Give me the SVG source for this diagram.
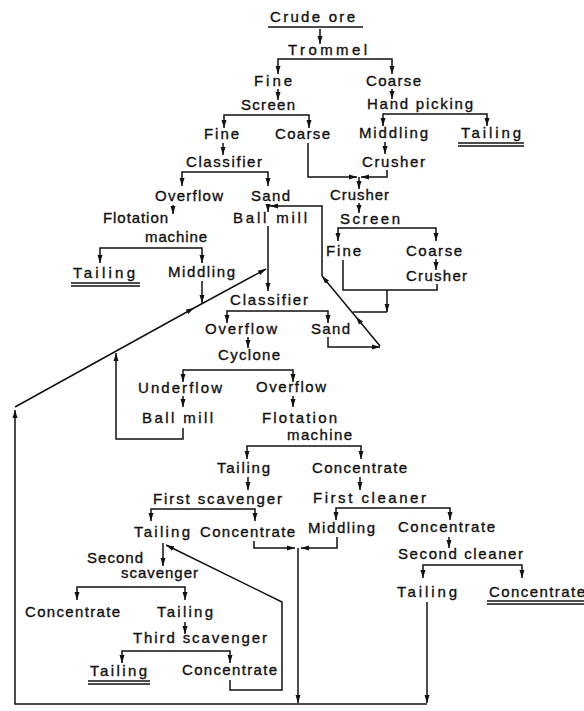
<svg xmlns="http://www.w3.org/2000/svg" width="584" height="711" viewBox="0 0 584 711">
<style>
.t{font-family:"Liberation Sans",Arial,sans-serif;font-size:15px;fill:#111;stroke:#111;stroke-width:0.35}
.c{fill:none;stroke:#111;stroke-width:1.5}
.a{marker-end:url(#ah)}
.m{marker-mid:url(#ah)}
.u{stroke:#111;stroke-width:1.3}
</style>
<defs>
<marker id="ah" viewBox="0 0 8 6" refX="8" refY="3" markerWidth="8" markerHeight="6" markerUnits="userSpaceOnUse" orient="auto">
<path d="M0,0.5 L8,3 L0,5.5 z" fill="#111"/>
</marker>
</defs>
<rect width="584" height="711" fill="#fff"/>

<g id="nodes">
<g id="n-crude-ore"><text class="t" x="270" y="22" textLength="85" lengthAdjust="spacing">Crude ore</text><line class="u" x1="268" y1="27" x2="363" y2="27"/></g>
<g id="n-trommel"><text class="t" x="288" y="55" textLength="79" lengthAdjust="spacing">Trommel</text></g>
<g id="n-fine1"><text class="t" x="254" y="86" textLength="38" lengthAdjust="spacing">Fine</text></g>
<g id="n-coarse1"><text class="t" x="366" y="86" textLength="55" lengthAdjust="spacing">Coarse</text></g>
<g id="n-screen1"><text class="t" x="241" y="110" textLength="54" lengthAdjust="spacing">Screen</text></g>
<g id="n-handpicking"><text class="t" x="367" y="109" textLength="106" lengthAdjust="spacing">Hand picking</text></g>
<g id="n-fine2"><text class="t" x="204" y="139" textLength="35" lengthAdjust="spacing">Fine</text></g>
<g id="n-coarse2"><text class="t" x="275" y="139" textLength="55" lengthAdjust="spacing">Coarse</text></g>
<g id="n-middling1"><text class="t" x="359" y="138" textLength="69" lengthAdjust="spacing">Middling</text></g>
<g id="n-tailing1"><text class="t" x="461" y="138" textLength="60" lengthAdjust="spacing">Tailing</text><line class="u" x1="458" y1="143" x2="524" y2="143"/><line class="u" x1="458" y1="146" x2="524" y2="146"/></g>
<g id="n-classifier1"><text class="t" x="186" y="167" textLength="76" lengthAdjust="spacing">Classifier</text></g>
<g id="n-crusher1"><text class="t" x="362" y="167" textLength="63" lengthAdjust="spacing">Crusher</text></g>
<g id="n-overflow1"><text class="t" x="155" y="201" textLength="68" lengthAdjust="spacing">Overflow</text></g>
<g id="n-sand1"><text class="t" x="251" y="201" textLength="39" lengthAdjust="spacing">Sand</text></g>
<g id="n-crusher2"><text class="t" x="330" y="200" textLength="59" lengthAdjust="spacing">Crusher</text></g>
<g id="n-flotation1"><text class="t" x="103" y="223" textLength="65" lengthAdjust="spacing">Flotation</text><text class="t" x="145" y="242" textLength="62" lengthAdjust="spacing">machine</text></g>
<g id="n-ballmill1"><text class="t" x="233" y="223" textLength="74" lengthAdjust="spacing">Ball mill</text></g>
<g id="n-screen2"><text class="t" x="340" y="224" textLength="60" lengthAdjust="spacing">Screen</text></g>
<g id="n-fine3"><text class="t" x="326" y="256" textLength="35" lengthAdjust="spacing">Fine</text></g>
<g id="n-coarse3"><text class="t" x="406" y="256" textLength="56" lengthAdjust="spacing">Coarse</text></g>
<g id="n-tailing2"><text class="t" x="73" y="278" textLength="62" lengthAdjust="spacing">Tailing</text><line class="u" x1="71" y1="283" x2="140" y2="283"/><line class="u" x1="71" y1="286" x2="140" y2="286"/></g>
<g id="n-middling2"><text class="t" x="168" y="277" textLength="67" lengthAdjust="spacing">Middling</text></g>
<g id="n-crusher3"><text class="t" x="406" y="281" textLength="61" lengthAdjust="spacing">Crusher</text></g>
<g id="n-classifier2"><text class="t" x="230" y="305" textLength="78" lengthAdjust="spacing">Classifier</text></g>
<g id="n-overflow2"><text class="t" x="205" y="334" textLength="72" lengthAdjust="spacing">Overflow</text></g>
<g id="n-sand2"><text class="t" x="311" y="334" textLength="39" lengthAdjust="spacing">Sand</text></g>
<g id="n-cyclone"><text class="t" x="218" y="360" textLength="62" lengthAdjust="spacing">Cyclone</text></g>
<g id="n-underflow"><text class="t" x="138" y="393" textLength="84" lengthAdjust="spacing">Underflow</text></g>
<g id="n-overflow3"><text class="t" x="256" y="392" textLength="70" lengthAdjust="spacing">Overflow</text></g>
<g id="n-ballmill2"><text class="t" x="142" y="423" textLength="71" lengthAdjust="spacing">Ball mill</text></g>
<g id="n-flotation2"><text class="t" x="262" y="423" textLength="75" lengthAdjust="spacing">Flotation</text><text class="t" x="287" y="440" textLength="65" lengthAdjust="spacing">machine</text></g>
<g id="n-tailing3"><text class="t" x="217" y="473" textLength="53" lengthAdjust="spacing">Tailing</text></g>
<g id="n-concentrate1"><text class="t" x="312" y="473" textLength="95" lengthAdjust="spacing">Concentrate</text></g>
<g id="n-first-scavenger"><text class="t" x="153" y="504" textLength="129" lengthAdjust="spacing">First  scavenger</text></g>
<g id="n-first-cleaner"><text class="t" x="313" y="503" textLength="113" lengthAdjust="spacing">First cleaner</text></g>
<g id="n-tailing4"><text class="t" x="134" y="537" textLength="56" lengthAdjust="spacing">Tailing</text></g>
<g id="n-concentrate2"><text class="t" x="200" y="537" textLength="95" lengthAdjust="spacing">Concentrate</text></g>
<g id="n-middling3"><text class="t" x="308" y="533" textLength="67" lengthAdjust="spacing">Middling</text></g>
<g id="n-concentrate3"><text class="t" x="398" y="532" textLength="97" lengthAdjust="spacing">Concentrate</text></g>
<g id="n-second-scavenger"><text class="t" x="87" y="563" textLength="56" lengthAdjust="spacing">Second</text><text class="t" x="121" y="578" textLength="77" lengthAdjust="spacing">scavenger</text></g>
<g id="n-second-cleaner"><text class="t" x="398" y="559" textLength="125" lengthAdjust="spacing">Second cleaner</text></g>
<g id="n-concentrate4"><text class="t" x="25" y="617" textLength="95" lengthAdjust="spacing">Concentrate</text></g>
<g id="n-tailing5"><text class="t" x="157" y="617" textLength="56" lengthAdjust="spacing">Tailing</text></g>
<g id="n-tailing6"><text class="t" x="397" y="597" textLength="60" lengthAdjust="spacing">Tailing</text></g>
<g id="n-concentrate5"><text class="t" x="489" y="597" textLength="96" lengthAdjust="spacing">Concentrate</text><line class="u" x1="487" y1="601" x2="584" y2="601"/><line class="u" x1="487" y1="604" x2="584" y2="604"/></g>
<g id="n-third-scavenger"><text class="t" x="133" y="643" textLength="134" lengthAdjust="spacing">Third  scavenger</text></g>
<g id="n-tailing7"><text class="t" x="90" y="676" textLength="57" lengthAdjust="spacing">Tailing</text><line class="u" x1="88" y1="681" x2="150" y2="681"/><line class="u" x1="88" y1="684" x2="150" y2="684"/></g>
<g id="n-concentrate6"><text class="t" x="182" y="675" textLength="95" lengthAdjust="spacing">Concentrate</text></g>
</g>

<g id="connectors">
<path class="c a" d="M320,29 V44"/>
<path class="c a" d="M320,59 H278 V74"/>
<path class="c a" d="M320,59 H392 V74"/>
<path class="c a" d="M278,89 V100"/>
<path class="c a" d="M392,89 V99"/>
<path class="c a" d="M265,115 H224 V128"/>
<path class="c a" d="M265,115 H309 V128"/>
<path class="c a" d="M430,114 H383 V126"/>
<path class="c a" d="M430,114 H487 V126"/>
<path class="c a" d="M223,143 V155"/>
<path class="c a" d="M385,142 V154"/>
<path class="c a" d="M308,143 V177 H357"/>
<path class="c a" d="M387,170 V177 H361"/>
<path class="c a" d="M359,177 V189"/>
<path class="c a" d="M225,172 H182 V186"/>
<path class="c a" d="M225,172 H268 V186"/>
<path class="c a" d="M173,205 V214"/>
<path class="c a" d="M268,204 V212"/>
<path class="c a" d="M359,203 V213"/>
<path class="c a" d="M387,228 H338 V241"/>
<path class="c a" d="M387,228 H436 V241"/>
<path class="c a" d="M150,248 H100 V263"/>
<path class="c a" d="M150,248 H202 V263"/>
<path class="c a" d="M436,259 V270"/>
<path class="c" d="M343,260 V290 H437 V284"/>
<path class="c a" d="M387,290 V312"/>
<path class="c" d="M387,312 H353"/>
<path class="c a" d="M268,226 V291"/>
<path class="c a m" d="M15,407 L194,308 L266,269"/>
<path class="c a" d="M202,281 V303"/>
<path class="c a" d="M183,428 V439 H116 V353"/>
<path class="c a" d="M270,311 H227 V323"/>
<path class="c a" d="M270,311 H328 V323"/>
<path class="c a" d="M248,337 V348"/>
<path class="c a" d="M328,337 V347 H380"/>
<path class="c a m" d="M380,346 L356,317 L322,276"/>
<path class="c a" d="M322,276 V206 H270"/>
<path class="c a" d="M240,370 H183 V382"/>
<path class="c a" d="M240,370 H293 V382"/>
<path class="c a" d="M183,396 V407"/>
<path class="c a" d="M293,396 V407"/>
<path class="c a" d="M300,446 H247 V459"/>
<path class="c a" d="M300,446 H361 V459"/>
<path class="c a" d="M248,477 V490"/>
<path class="c a" d="M360,477 V490"/>
<path class="c a" d="M200,509 H151 V521"/>
<path class="c a" d="M200,509 H255 V521"/>
<path class="c a" d="M390,508 H336 V520"/>
<path class="c a" d="M390,508 H450 V520"/>
<path class="c a" d="M254,541 V548 H295"/>
<path class="c a" d="M337,537 V548 H301"/>
<path class="c a" d="M298,548 V703"/>
<path class="c a" d="M449,537 V548"/>
<path class="c a" d="M163,543 V566"/>
<path class="c a" d="M130,587 H77 V600"/>
<path class="c a" d="M130,587 H185 V600"/>
<path class="c a" d="M470,565 H423 V578"/>
<path class="c a" d="M470,565 H522 V578"/>
<path class="c a" d="M185,622 V634"/>
<path class="c a" d="M175,651 H122 V663"/>
<path class="c a" d="M175,651 H230 V663"/>
<path class="c a" d="M230,680 V690 H282 V602 L166,545"/>
<path class="c a" d="M427,602 V703"/>
<path class="c a" d="M427,704 H15 V410"/>
</g>
</svg>
